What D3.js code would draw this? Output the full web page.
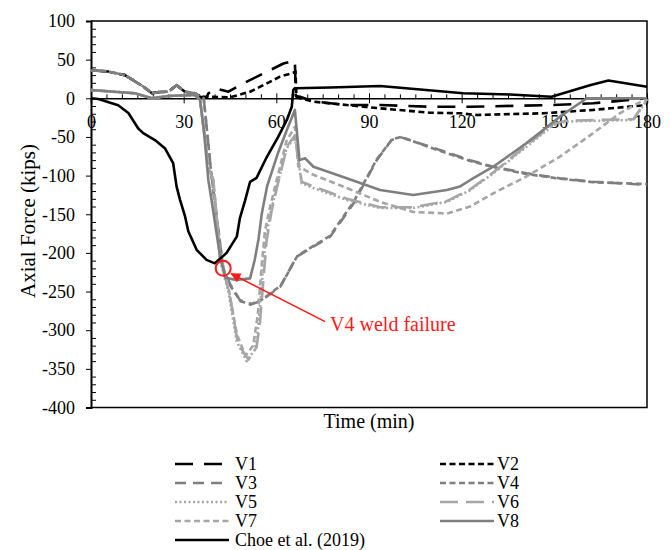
<!DOCTYPE html>
<html>
<head>
<meta charset="utf-8">
<script src="https://cdn.jsdelivr.net/npm/d3@7"></script>
<style>
  body { margin: 0; background: #fff; }
  svg { display: block; }
  svg text { font-family: "Liberation Serif", "Times New Roman", serif; }
</style>
</head>
<body>
<svg id="chart" width="671" height="550"></svg>
<script>
// time (min) and axial force (kips)
const tV1 = [0, 5, 11, 17, 19.7, 22, 25, 27.7, 30.4, 33.7, 35.3, 37.4, 38, 40.7, 42, 44.5, 48.2, 54.7, 62.3, 66, 66.3, 67.7, 72, 82.8, 93.6, 109.7, 122.7, 149.7, 162.6, 180];
const vV1 = [36, 35, 30, 15, 6.5, 8, 8.5, 17, 8.5, 6.5, 2, 1, 6.5, 13, 11, 8.5, 17, 30, 45, 49, 3, 2, -4, -8.7, -8.7, -10.9, -10.9, -8.7, -6.5, 0];

const tV2 = [0, 5, 11, 17, 19.7, 22, 25, 27.7, 30.4, 33.7, 35.3, 37.4, 45, 51.5, 55.8, 61.2, 65.5, 66.2, 66.5, 67.7, 72, 82.8, 93.6, 109.7, 119.5, 124.9, 146.4, 162.6, 180];
const vV2 = [36, 35, 30, 15, 6.5, 8, 8.5, 17, 8.5, 6.5, 2, 2, 1.3, 8.5, 17, 28, 33, 35, 2, 0, -4.4, -8.7, -13, -18.6, -19.4, -21.6, -19.4, -15, -8.7];

const tV3 = [0, 5, 11, 17, 19.7, 22, 25, 27.7, 30.4, 33.7, 35.3, 36.5, 39, 42.8, 45, 48.2, 51.5, 55, 61.2, 66.6, 72, 77.4, 85, 92.5, 97.3, 100, 110, 122.7, 130.2, 141, 151.8, 162.6, 180];
const vV3 = [36, 35, 30, 15, 6.5, 8, 8.5, 17, 8.5, 6.5, 2, 0, -100, -220, -240, -261, -267, -262, -244, -205, -192, -179, -136, -80, -54, -50, -63, -80, -88.5, -97, -103.5, -108, -112];

const tV4 = [0, 5, 11, 17, 19.7, 22, 25, 27.7, 30.4, 33.7, 35.3, 36.5, 39, 42.8, 45, 48.5, 52, 55.5, 61.5, 66.8, 72, 77.4, 85, 92.5, 97.5, 100.5, 110, 122.7, 130.2, 141, 151.8, 162.6, 180];
const vV4 = [36, 35, 30, 15, 6.5, 8, 8.5, 17, 8.5, 6.5, 2, 0, -100, -220, -242, -263, -266, -260, -242, -204, -191, -178, -134, -79, -53, -50, -64, -81, -89, -98, -104, -108.5, -111];

const tV5 = [0, 14.2, 19.7, 25, 33.7, 35.3, 36.5, 38, 39.6, 41.8, 44.5, 47.2, 50.4, 53.1, 54.2, 55.3, 56.3, 58, 60.1, 63.3, 66, 68.2, 72, 82.8, 93.6, 104.3, 115.2, 122.7, 130.2, 141, 149.7, 154, 175.6, 180];
const vV5 = [10.7, 6.5, 0, 3, 4.3, -2, -40, -90, -106, -210, -250, -315, -340, -325, -295, -240, -190, -150, -115, -65, -50, -110, -116, -131.5, -142, -142, -134, -119, -97, -62.6, -34.5, -30, -28, -2];

const tV6 = [0, 14.2, 19.7, 25, 33.7, 35.3, 36.5, 38, 39.6, 41.8, 44.8, 47.6, 51, 53.6, 54.7, 55.8, 56.8, 58.4, 60.4, 63.5, 66, 68.2, 72, 82.8, 93.6, 104.3, 115.2, 122.7, 130.2, 141, 149.7, 154, 175.6, 180];
const vV6 = [10.7, 6.5, 0, 3, 4.3, -2, -40, -90, -106, -208, -252, -318, -338, -322, -290, -236, -186, -147, -112, -62, -48, -108, -114, -130, -141, -141, -133, -118, -96, -61, -33, -29, -27, -1];

const tV7 = [0, 14.2, 19.7, 25, 33.7, 35.3, 36.5, 38, 39.6, 41.8, 44.5, 47.2, 50, 52.5, 54, 55.3, 56.3, 58, 60.1, 63.3, 66, 67.1, 72, 82.8, 93.6, 104.3, 115.2, 122.7, 130.2, 141, 151.8, 162.6, 171.2, 180];
const vV7 = [10.7, 6.5, 0, 3, 4.3, -2, -40, -90, -106, -200, -245, -305, -333, -320, -280, -215, -172, -140, -106, -55, -37, -88, -99, -116, -134, -147, -149, -140, -123, -101, -75.5, -45, -19.4, 0];

const tV8 = [0, 14.2, 19.7, 25, 33.7, 35.3, 36.5, 38, 39, 41.8, 43.5, 47, 51.5, 53, 54.2, 55.3, 57, 60.6, 63.5, 66, 67.5, 69.3, 72, 82.8, 93.6, 104.3, 115.2, 119.5, 122.7, 130.2, 141, 151.8, 160.5, 180];
const vV8 = [10.7, 6.5, 0, 3, 4.3, -2, -40, -106, -131, -205, -232, -235, -233, -209, -183, -149, -114, -70, -40, -15, -80, -77.6, -88.5, -103.5, -118.6, -125, -118.6, -114, -106, -88.5, -58, -23.8, 0, 0];

const tChoe = [0, 2.4, 8.8, 12.1, 15.3, 16.9, 20.7, 24, 26.6, 27.7, 28.8, 30.4, 31.5, 34.2, 37.4, 40.1, 43.9, 47.2, 48.2, 49.9, 51.5, 53.6, 56.9, 60.6, 63.4, 65, 65.5, 66, 77.4, 93.6, 120.5, 135.6, 149.1, 161.5, 167.5, 180];
const vChoe = [0, -1, -9, -19, -39, -45, -54, -65, -84, -114, -131, -152, -172, -196, -209, -213.5, -200, -179, -155, -132, -108, -103, -76, -50, -28, -11, 11, 13, 14, 16, 6.5, 5, 2, 17, 23, 15];

const seriesNames = ["V1", "V2", "V3", "V4", "V5", "V6", "V7", "V8", "Choe et al. (2019)"];
const seriesTimes = [tV1, tV2, tV3, tV4, tV5, tV6, tV7, tV8, tChoe];
const seriesValues = [vV1, vV2, vV3, vV4, vV5, vV6, vV7, vV8, vChoe];

const xTicks = [0, 30, 60, 90, 120, 150, 180];
const yTicks = [-400, -350, -300, -250, -200, -150, -100, -50, 0, 50, 100];

const DARK = "#7f7f7f", LIGHT = "#a6a6a6";
const styles = [
  { color: "#000", dash: "18,11" },
  { color: "#000", dash: "6,3.5" },
  { color: DARK, dash: "11,7" },
  { color: DARK, dash: "6,3.5" },
  { color: LIGHT, dash: "2,2.5" },
  { color: LIGHT, dash: "18,8" },
  { color: LIGHT, dash: "6,3.5" },
  { color: DARK, dash: null },
  { color: "#000", dash: null }
];

const svg = d3.select("#chart");
const x = d3.scaleLinear().domain([0, 180]).range([91, 647]);
const y = d3.scaleLinear().domain([-400, 100]).range([407.5, 21]);
const plain = d => String(d); // hyphen minus, as in the figure

// frame
svg.append("path")
  .attr("d", `M${x(0)},${y(100)}H${x(180)}V${y(-400)}H${x(0)}`)
  .attr("fill", "none").attr("stroke", "#000").attr("stroke-width", 1.5);

// y axis: major ticks outside, minor inside
const yAxis = svg.append("g").attr("transform", `translate(${x(0)},0)`)
  .call(d3.axisLeft(y).tickValues(yTicks).tickFormat(plain).tickSize(5).tickPadding(11))
  .attr("font-family", null);
yAxis.select(".domain").attr("stroke-width", 2);
yAxis.selectAll("text").attr("font-size", 18).attr("fill", "#000");

svg.append("g").attr("transform", `translate(${x(0)},0)`)
  .call(d3.axisRight(y).tickValues(d3.range(-390, 100, 10).filter(d => d % 50 !== 0)).tickSize(5).tickFormat(""))
  .call(g => g.select(".domain").remove());

// x axis at zero line
const xAxis = svg.append("g").attr("transform", `translate(0,${y(0)})`)
  .call(d3.axisBottom(x).tickValues(xTicks).tickFormat(plain).tickSize(5))
  .attr("font-family", null);
xAxis.select(".domain").attr("stroke-width", 1.5);
xAxis.selectAll(".tick line").attr("y1", -5).attr("y2", 5);
xAxis.selectAll("text").attr("y", 17).attr("font-size", 18).attr("fill", "#000");

svg.append("g").attr("transform", `translate(0,${y(0)})`)
  .call(d3.axisTop(x).tickValues(d3.range(5, 180, 5).filter(d => d % 30 !== 0)).tickSize(4).tickFormat(""))
  .call(g => g.select(".domain").remove());

// series
const line = d3.line().x(d => x(d[0])).y(d => y(d[1]));
svg.append("g").selectAll("path")
  .data(seriesNames.map((n, i) => ({ i, pts: seriesTimes[i].map((t, j) => [t, seriesValues[i][j]]) })))
  .join("path")
  .attr("d", d => line(d.pts))
  .attr("fill", "none")
  .attr("stroke", d => styles[d.i].color)
  .attr("stroke-width", 2.6)
  .attr("stroke-linejoin", "round")
  .attr("stroke-dasharray", d => styles[d.i].dash);

// annotation
const red = "#ff1a1a";
svg.append("defs").append("marker")
  .attr("id", "arrow").attr("viewBox", "0 0 10 10").attr("refX", 9).attr("refY", 5)
  .attr("markerWidth", 13).attr("markerHeight", 10).attr("markerUnits", "userSpaceOnUse")
  .attr("orient", "auto")
  .append("path").attr("d", "M0,0L10,5L0,10z").attr("fill", red);
svg.append("circle")
  .attr("cx", x(42.8)).attr("cy", y(-220)).attr("r", 7.5)
  .attr("fill", "none").attr("stroke", red).attr("stroke-width", 2);
svg.append("line")
  .attr("x1", x(75.8)).attr("y1", y(-289)).attr("x2", x(45.4)).attr("y2", y(-227))
  .attr("stroke", red).attr("stroke-width", 1.5).attr("marker-end", "url(#arrow)");
svg.append("text")
  .attr("x", x(77.4)).attr("y", y(-301))
  .attr("font-size", 20).attr("fill", red)
  .text("V4 weld failure");

// axis titles
svg.append("text")
  .attr("x", (x(0) + x(180)) / 2).attr("y", 428)
  .attr("text-anchor", "middle").attr("font-size", 20)
  .text("Time (min)");
svg.append("text")
  .attr("transform", "translate(35,221) rotate(-90)")
  .attr("text-anchor", "middle").attr("font-size", 21)
  .text("Axial Force (kips)");

// legend
const legend = svg.append("g").selectAll("g")
  .data(seriesNames.map((n, i) => ({ n, i })))
  .join("g")
  .attr("transform", d => d.i === 8
    ? `translate(175,540)`
    : `translate(${d.i % 2 === 0 ? 175 : 440},${464 + Math.floor(d.i / 2) * 19})`);
legend.append("line")
  .attr("x1", 0).attr("x2", 54).attr("y1", 0).attr("y2", 0)
  .attr("stroke", d => styles[d.i].color)
  .attr("stroke-width", 2.6)
  .attr("stroke-dasharray", d => styles[d.i].dash);
legend.append("text")
  .attr("x", d => d.i % 2 === 0 ? 60 : 57).attr("y", 6)
  .attr("font-size", 18)
  .text(d => d.n);
</script>
</body>
</html>
